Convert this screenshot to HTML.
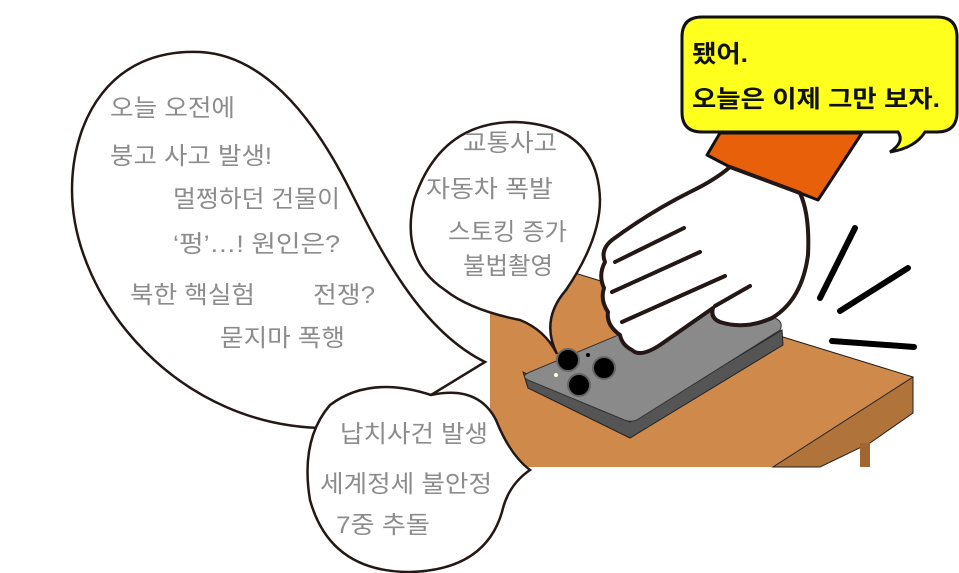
<!DOCTYPE html>
<html><head><meta charset="utf-8"><style>
html,body{margin:0;padding:0;background:#fff;}
svg{display:block}
.g{font-family:"Liberation Sans","Noto Sans CJK KR",sans-serif;font-size:24px;fill:#8c8c8c}
.b{font-family:"Liberation Sans","Noto Sans CJK KR",sans-serif;font-size:24px;font-weight:bold;fill:#111}
</style></head><body>
<svg width="959" height="573" viewBox="0 0 959 573" xmlns="http://www.w3.org/2000/svg">
<!-- table -->
<polygon points="490,270 565,270 913,377 773,467 490,467" fill="#CF8A4B"/>
<polygon points="913,377 913,413 870,443 820,467 773,467" fill="#B0733A" stroke="#222" stroke-width="1"/>
<line x1="565" y1="270" x2="913" y2="377" stroke="#222" stroke-width="1"/>
<rect x="860" y="443" width="10" height="24" fill="#A06530"/>
<!-- phone -->
<polygon points="523,372 528,388 630,438 783,345 782,330 630,422" fill="#555" stroke="#222" stroke-width="1"/>
<path d="M530,372 L690,305 Q700,300 712,304 L775,318 Q784,322 780,330 L640,418 Q632,424 622,419 L528,380 Q520,376 530,372Z" fill="#8a8a8a" stroke="#333" stroke-width="1"/>
<circle cx="568" cy="360" r="11" fill="#000" stroke="#666" stroke-width="2"/>
<circle cx="604" cy="368" r="11" fill="#000" stroke="#666" stroke-width="2"/>
<circle cx="579" cy="385" r="11" fill="#000" stroke="#666" stroke-width="2"/>
<circle cx="588" cy="355" r="2" fill="#000"/>
<circle cx="556" cy="375" r="2" fill="#ffe"/>
<!-- sleeve -->
<polygon points="707,155 720,133 862,133 818,200 800,193 730,167" fill="#E8600A" stroke="#111" stroke-width="3" stroke-linejoin="round"/>
<!-- hand -->
<path d="M730,167 L800,193 Q810,215 808,255 Q802,300 772,318 Q745,330 720,322 Q710,318 713,308 L660,345 Q640,358 632,350 Q622,345 620,335 Q606,325 608,312 Q600,300 604,288 Q598,275 605,262 Q600,250 612,240 Q650,212 690,192 Q715,180 730,167Z" fill="#fff" stroke="#231815" stroke-width="4" stroke-linejoin="round"/>
<path d="M684,228 L615,262 M700,252 L612,292 M725,276 L622,322 M750,286 L715,306" stroke="#231815" stroke-width="4" fill="none" stroke-linecap="round"/>
<!-- impact lines -->
<g stroke="#000" stroke-width="6" stroke-linecap="round"><line x1="855" y1="228" x2="820" y2="298"/><line x1="908" y1="268" x2="840" y2="311"/><line x1="832" y1="341" x2="914" y2="347"/></g>
<!-- yellow bubble -->
<path d="M702,17 L937,17 Q957,17 957,37 L957,112 Q957,132 937,132 L925,132 Q915,148 890,152 Q905,142 898,132 L702,132 Q682,132 682,112 L682,37 Q682,17 702,17Z" fill="#FFFF1E" stroke="#111" stroke-width="3"/>
<text x="692" y="62" class="b" textLength="56" lengthAdjust="spacingAndGlyphs">됐어.</text>
<text x="692" y="107" class="b" textLength="248" lengthAdjust="spacingAndGlyphs">오늘은 이제 그만  보자.</text>
<!-- big bubble -->
<path d="M485,362 C420,330 380,250 350,190 C310,110 260,55 200,52 C110,48 72,120 72,190 C72,300 180,430 330,428 L431,395 Z" fill="#fff" stroke="#231815" stroke-width="2.5"/>
<!-- middle bubble -->
<path d="M557,354 Q540,320 566,290 Q600,240 600,200 Q598,125 515,122 Q440,122 414,200 Q400,260 445,290 Q470,310 520,320 Q545,330 557,354Z" fill="#fff" stroke="#231815" stroke-width="2.5"/>
<!-- bottom bubble -->
<path d="M431,395 Q478,385 496,420 Q510,455 530,470 Q508,485 502,512 Q485,570 410,572 Q330,572 310,500 Q300,440 330,405 Q370,375 431,395Z" fill="#fff" stroke="#231815" stroke-width="2.5"/>
<text class="g" x="110" y="116" textLength="125" lengthAdjust="spacingAndGlyphs">오늘 오전에</text>
<text class="g" x="110" y="164" textLength="162" lengthAdjust="spacingAndGlyphs">붕고 사고 발생!</text>
<text class="g" x="173" y="207" textLength="167" lengthAdjust="spacingAndGlyphs">멀쩡하던 건물이</text>
<text class="g" x="173" y="252" textLength="167" lengthAdjust="spacingAndGlyphs">‘펑’…! 원인은?</text>
<text class="g" x="130" y="303" textLength="125" lengthAdjust="spacingAndGlyphs">북한 핵실험</text>
<text class="g" x="313" y="303" textLength="62" lengthAdjust="spacingAndGlyphs">전쟁?</text>
<text class="g" x="220" y="346" textLength="125" lengthAdjust="spacingAndGlyphs">묻지마 폭행</text>
<text class="g" x="463" y="151" textLength="94" lengthAdjust="spacingAndGlyphs">교통사고</text>
<text class="g" x="426" y="197" textLength="127" lengthAdjust="spacingAndGlyphs">자동차 폭발</text>
<text class="g" x="448" y="240" textLength="119" lengthAdjust="spacingAndGlyphs">스토킹 증가</text>
<text class="g" x="463" y="274" textLength="90" lengthAdjust="spacingAndGlyphs">불법촬영</text>
<text class="g" x="340" y="442" textLength="148" lengthAdjust="spacingAndGlyphs">납치사건 발생</text>
<text class="g" x="320" y="492" textLength="172" lengthAdjust="spacingAndGlyphs">세계정세 불안정</text>
<text class="g" x="336" y="533" textLength="94" lengthAdjust="spacingAndGlyphs">7중 추돌</text>
</svg>
</body></html>
